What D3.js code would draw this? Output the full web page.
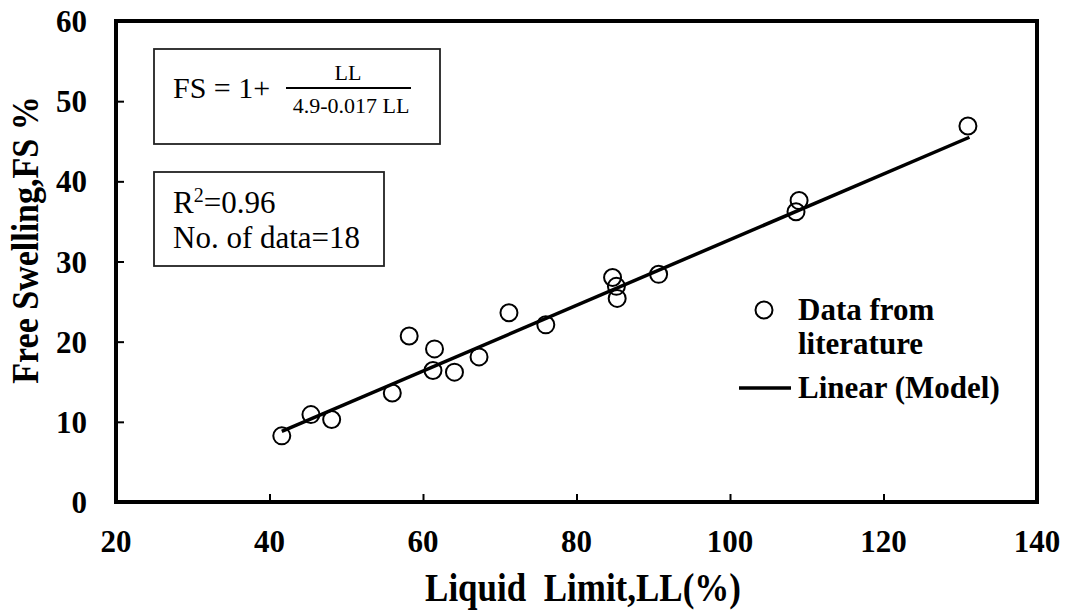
<!DOCTYPE html>
<html>
<head>
<meta charset="utf-8">
<script src="https://cdn.jsdelivr.net/npm/d3@7"></script>
<style>
  html, body { margin: 0; padding: 0; background: #fff; }
</style>
</head>
<body>
<svg id="chart" width="1086" height="613"></svg>
<script>
// ---- data ----
const liquidLimit = [41.6, 45.4, 48.1, 56.0, 58.2, 61.5, 61.3, 64.1, 67.3, 71.2, 76.0, 84.7, 85.2, 85.3, 90.7, 109.0, 108.6, 131.0];
const freeSwelling = [8.25, 10.9, 10.3, 13.6, 20.7, 19.1, 16.4, 16.2, 18.1, 23.6, 22.1, 28.0, 26.9, 25.4, 28.4, 37.6, 36.2, 46.9];
const modelLL = [41.6, 131.2];
const modelFS = [8.8, 45.5];
const xTicks = [20, 40, 60, 80, 100, 120, 140];
const yTicks = [0, 10, 20, 30, 40, 50, 60];
const xTitle = "Liquid\u00A0\u00A0Limit,LL(%)";
const yTitle = "Free Swelling,FS %";
const legendLabels = ["Data from", "literature", "Linear (Model)"];
const boxLines = ["R", "=0.96", "No. of data=18"];

const FONT = "Liberation Serif, Times New Roman, serif";
const svg = d3.select("#chart");
const L = 116, R = 1037, T = 21, B = 502;
const x = d3.scaleLinear().domain([20, 140]).range([L, R]);
const y = d3.scaleLinear().domain([0, 60]).range([B, T]);

// axes with inward ticks
const xAxis = svg.append("g").attr("transform", `translate(0,${B})`)
  .call(d3.axisBottom(x).tickValues(xTicks).tickSize(-8).tickPadding(0).tickFormat(""));
const yAxis = svg.append("g").attr("transform", `translate(${L},0)`)
  .call(d3.axisLeft(y).tickValues(yTicks).tickSize(-8).tickPadding(0).tickFormat(""));
[xAxis, yAxis].forEach(g => {
  g.select(".domain").remove();
  g.selectAll(".tick line").attr("stroke", "#000").attr("stroke-width", 2);
});

// tick labels
svg.append("g").selectAll("text").data(xTicks).join("text")
  .attr("x", d => x(d)).attr("y", 552)
  .attr("text-anchor", "middle").attr("font-family", FONT)
  .attr("font-size", 31).attr("font-weight", "bold")
  .text(d => d);
svg.append("g").selectAll("text").data(yTicks).join("text")
  .attr("x", 87).attr("y", d => y(d) + 11)
  .attr("text-anchor", "end").attr("font-family", FONT)
  .attr("font-size", 31).attr("font-weight", "bold")
  .text(d => d);

// frame
svg.append("rect").attr("x", L).attr("y", T).attr("width", R - L).attr("height", B - T)
  .attr("fill", "none").attr("stroke", "#000").attr("stroke-width", 4);

// titles
svg.append("text").attr("transform", "translate(583,601) scale(1,1.12)")
  .attr("text-anchor", "middle").attr("font-family", FONT)
  .attr("font-size", 35).attr("font-weight", "bold")
  .text(xTitle);
svg.append("text").attr("transform", "translate(38,240) rotate(-90) scale(1,1.1)")
  .attr("text-anchor", "middle").attr("font-family", FONT)
  .attr("font-size", 34).attr("font-weight", "bold")
  .text(yTitle);

// model line
svg.append("line")
  .attr("x1", x(modelLL[0])).attr("y1", y(modelFS[0]))
  .attr("x2", x(modelLL[1])).attr("y2", y(modelFS[1]))
  .attr("stroke", "#000").attr("stroke-width", 3.5);

// data points
svg.append("g").selectAll("circle").data(liquidLimit).join("circle")
  .attr("cx", d => x(d)).attr("cy", (d, i) => y(freeSwelling[i]))
  .attr("r", 8.5).attr("fill", "none").attr("stroke", "#000").attr("stroke-width", 2);

// equation box
svg.append("rect").attr("x", 154).attr("y", 49).attr("width", 286).attr("height", 95)
  .attr("fill", "none").attr("stroke", "#222").attr("stroke-width", 1.8);
svg.append("text").attr("x", 173).attr("y", 98).attr("font-family", FONT).attr("font-size", 30).text("FS = 1+");
svg.append("text").attr("x", 348).attr("y", 80).attr("text-anchor", "middle").attr("font-family", FONT).attr("font-size", 22).text("LL");
svg.append("line").attr("x1", 286).attr("x2", 411).attr("y1", 88).attr("y2", 88)
  .attr("stroke", "#000").attr("stroke-width", 1.8);
svg.append("text").attr("x", 351).attr("y", 113).attr("text-anchor", "middle").attr("font-family", FONT).attr("font-size", 22).text("4.9-0.017 LL");

// R2 box
svg.append("rect").attr("x", 154).attr("y", 172).attr("width", 230).attr("height", 94)
  .attr("fill", "none").attr("stroke", "#222").attr("stroke-width", 1.8);
const r2 = svg.append("text").attr("x", 173).attr("y", 213).attr("font-family", FONT).attr("font-size", 31);
r2.append("tspan").text(boxLines[0]);
r2.append("tspan").attr("dy", -11).attr("font-size", 20).text("2");
r2.append("tspan").attr("dy", 11).text(boxLines[1]);
svg.append("text").attr("x", 173).attr("y", 248).attr("font-family", FONT).attr("font-size", 31).text(boxLines[2]);

// legend
svg.append("circle").attr("cx", 764).attr("cy", 310).attr("r", 8.5)
  .attr("fill", "none").attr("stroke", "#000").attr("stroke-width", 2);
svg.append("line").attr("x1", 739).attr("x2", 791).attr("y1", 388).attr("y2", 388)
  .attr("stroke", "#000").attr("stroke-width", 3.5);
svg.append("g").selectAll("text").data(legendLabels).join("text")
  .attr("x", 798).attr("y", (d, i) => [320, 354, 398][i])
  .attr("font-family", FONT)
  .attr("font-size", 31).attr("font-weight", "bold")
  .text(d => d);
</script>
</body>
</html>
